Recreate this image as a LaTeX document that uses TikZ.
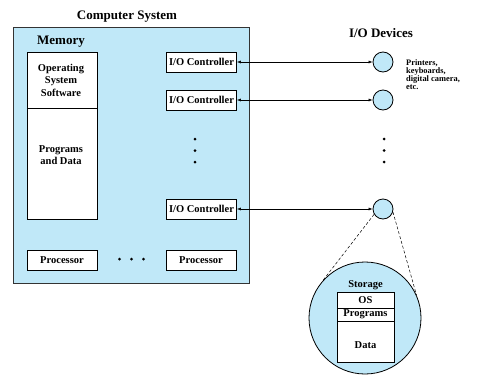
\documentclass[tikz,border=0pt]{standalone}
\usepackage{fontspec}
\setmainfont{Liberation Serif}
\usetikzlibrary{arrows.meta}
\definecolor{panelblue}{RGB}{192,232,248}
\tikzset{
  ttl/.style={font=\fontsize{13}{15}\selectfont\bfseries, inner sep=0},
  unit/.style={draw, fill=white, line width=0.8pt, inner sep=0,
    minimum width=70pt, minimum height=20pt,
    font=\fontsize{10.5}{12}\selectfont\bfseries},
  memtext/.style={align=center, inner sep=0,
    font=\fontsize{10.5}{12.5}\selectfont\bfseries},
  dev/.style={circle, draw, fill=panelblue, line width=0.8pt, inner sep=0,
    minimum size=20pt},
  dot/.style={circle, fill=black, inner sep=0, minimum size=3pt},
  link/.style={{Latex[length=4pt,width=3pt]}-{Latex[length=4pt,width=3pt]}, line width=0.6pt},
  zoomline/.style={dash pattern=on 3pt off 2pt, line width=0.5pt},
  stor/.style={draw, fill=white, line width=0.8pt, inner sep=0,
    minimum width=57pt, font=\fontsize{10.5}{12}\selectfont\bfseries}
}
\begin{document}
\begin{tikzpicture}[x=1pt, y=-1pt]
\useasboundingbox (0,0) rectangle (477,375);

% computer system frame
\node[draw=black!80, fill=panelblue, line width=1pt, inner sep=0,
  minimum width=236.5pt, minimum height=256pt] (sys) at (131.25,155) {};
\node[ttl] (systitle) at (127,17) {Computer System};
\node[ttl] (memtitle) at (61,42) {Memory};

% memory blocks
\node[draw, fill=white, line width=0.8pt, inner sep=0,
  minimum width=70pt, minimum height=56pt] (osmem) at (62,80) {};
\node[memtext] (ostext) at (61,80) {Operating\\System\\Software};
\node[draw, fill=white, line width=0.8pt, inner sep=0,
  minimum width=70pt, minimum height=111pt] (progmem) at (62,163.5) {};
\node[memtext] (progtext) at (61,155) {Programs\\and Data};

% I/O controllers
\node[unit] (ctl1) at (201.5,62) {I/O Controller};
\node[unit] (ctl2) at (201.5,100) {I/O Controller};
\node[unit] (ctl3) at (201.5,209) {I/O Controller};
\node[dot] (cd1) at (195,139) {};
\node[dot] (cd2) at (195,150.5) {};
\node[dot] (cd3) at (195,162) {};

% processors
\node[unit] (cpu1) at (62,260) {Processor};
\node[unit] (cpu2) at (201,260) {Processor};
\node[dot] (pd1) at (119.5,259) {};
\node[dot] (pd2) at (131.5,259) {};
\node[dot] (pd3) at (143.5,259) {};

% I/O devices
\node[ttl] (devtitle) at (381,33) {I/O Devices};
\node[dev] (dev1) at (383,62) {};
\node[dev] (dev2) at (383,100) {};
\node[dev] (dev3) at (383,209) {};
\node[dot] (dd1) at (384,139) {};
\node[dot] (dd2) at (384,150.5) {};
\node[dot] (dd3) at (384,162) {};
\node[anchor=west, align=left, inner sep=0,
  font=\fontsize{8.4}{8}\selectfont\bfseries] (devnote) at (406,75)
  {Printers,\\keyboards,\\digital camera,\\etc.};

\draw[link] (ctl1.east) -- (dev1.west);
\draw[link] (ctl2.east) -- (dev2.west);
\draw[link] (ctl3.east) -- (dev3.west);

% storage detail
\node[circle, draw, fill=panelblue, line width=0.8pt, inner sep=0,
  minimum size=112pt] (store) at (365,318) {};
\draw[zoomline] (dev3.211) -- (store.138);
\draw[zoomline] (dev3.-17) -- (store.24);
\node[font=\fontsize{10.5}{12}\selectfont\bfseries, inner sep=0] (storetitle) at (365.5,285) {Storage};
\node[stor, minimum height=16pt] (sos) at (365.5,300) {OS};
\node[stor, minimum height=13pt] (sprog) at (365.5,314.5) {Programs};
\node[stor, minimum height=41pt] (sdata) at (365.5,341.5) {};
\node[font=\fontsize{10.5}{12}\selectfont\bfseries, inner sep=0] (sdatatext) at (365.5,345) {Data};
\end{tikzpicture}
\end{document}
